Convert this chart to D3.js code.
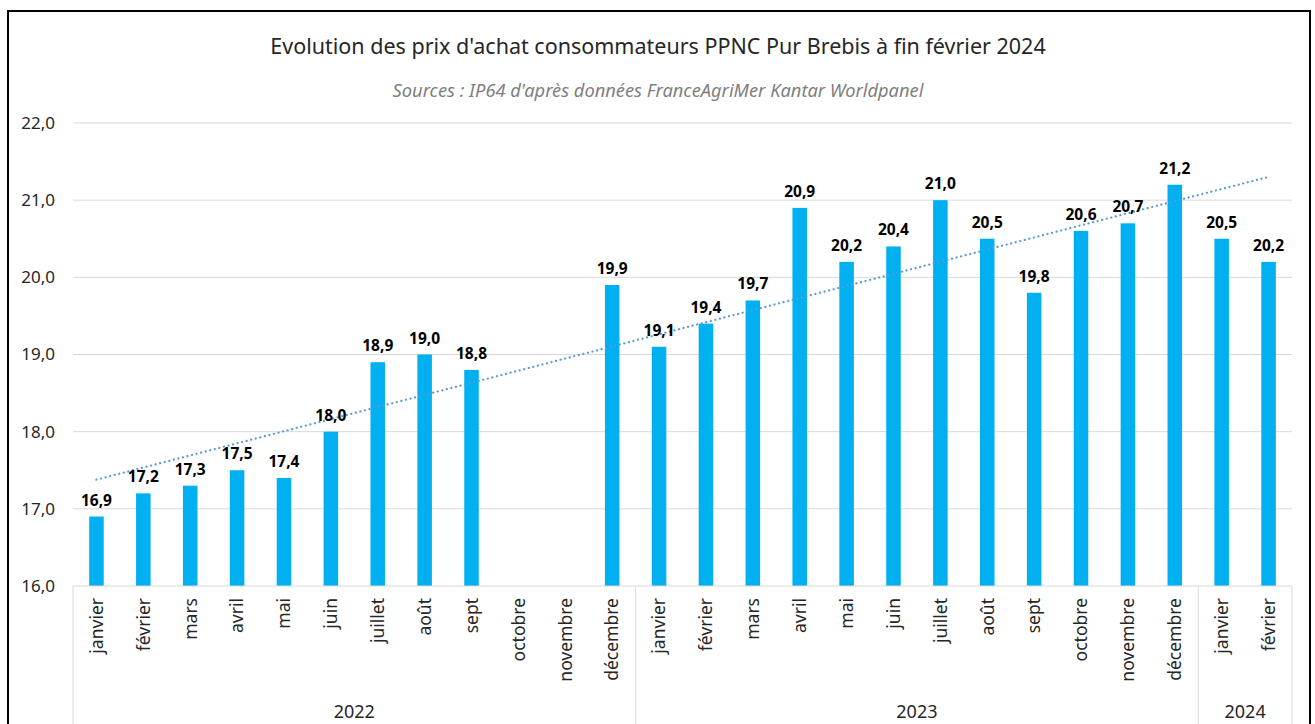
<!DOCTYPE html>
<html>
<head>
<meta charset="utf-8">
<script src="https://cdn.jsdelivr.net/npm/d3@7"></script>
<style>
  body { margin: 0; background: #fff; }
  svg { display: block; font-family: "Noto Sans", "Open Sans", sans-serif; }
</style>
</head>
<body>
<div id="vis"></div>
<script>
// months shown on the axis, grouped by year
const years = ["2022", "2023", "2024"];
const months2022 = ["janvier", "février", "mars", "avril", "mai", "juin", "juillet", "août", "sept", "octobre", "novembre", "décembre"];
const months2023 = ["janvier", "février", "mars", "avril", "mai", "juin", "juillet", "août", "sept", "octobre", "novembre", "décembre"];
const months2024 = ["janvier", "février"];

// prix moyen (€/kg), null = pas de donnée
const prix2022 = [16.9, 17.2, 17.3, 17.5, 17.4, 18.0, 18.9, 19.0, 18.8, null, null, 19.9];
const prix2023 = [19.1, 19.4, 19.7, 20.9, 20.2, 20.4, 21.0, 20.5, 19.8, 20.6, 20.7, 21.2];
const prix2024 = [20.5, 20.2];

const yTicks = [16, 17, 18, 19, 20, 21, 22];

const title = "Evolution des prix d'achat consommateurs PPNC Pur Brebis à fin février 2024";
const subtitle = "Sources : IP64 d'après données FranceAgriMer Kantar Worldpanel";

const width = 1315, height = 724;
const margin = {left: 73, right: 23, top: 123, bottom: 138};

// flat list of rows
const groups = [
  {year: years[0], months: months2022, values: prix2022},
  {year: years[1], months: months2023, values: prix2023},
  {year: years[2], months: months2024, values: prix2024}
];
const rows = [];
groups.forEach(g => g.months.forEach((m, i) => {
  rows.push({key: g.year + "-" + i, year: g.year, month: m, value: g.values[i]});
}));

const fmt = v => d3.format(".1f")(v).replace(".", ",");

const svg = d3.select("#vis").append("svg")
  .attr("width", width)
  .attr("height", height);

// frame
svg.append("rect")
  .attr("x", 8).attr("y", 11)
  .attr("width", 1302).attr("height", height + 20)
  .attr("fill", "none")
  .attr("stroke", "#000")
  .attr("stroke-width", 2);

const x = d3.scaleBand()
  .domain(rows.map(d => d.key))
  .range([margin.left, width - margin.right])
  .paddingInner(0.69)
  .paddingOuter(0.345);

const y = d3.scaleLinear()
  .domain([16, 22])
  .range([height - margin.bottom, margin.top]);

const cx = d => x(d.key) + x.bandwidth() / 2;

// gridlines
svg.append("g")
  .selectAll("line")
  .data(yTicks.slice(1))
  .join("line")
  .attr("x1", margin.left).attr("x2", width - margin.right)
  .attr("y1", d => y(d)).attr("y2", d => y(d))
  .attr("stroke", "#d9d9d9")
  .attr("stroke-width", 1);

// y axis labels
const yAxis = svg.append("g")
  .attr("transform", `translate(${margin.left},0)`)
  .call(d3.axisLeft(y).tickValues(yTicks).tickSize(0).tickPadding(18).tickFormat(fmt));
yAxis.select(".domain").remove();
yAxis.selectAll("text")
  .attr("font-size", 17)
  .attr("fill", "#262626")
  .style("font-family", "Noto Sans");

// bars
svg.append("g")
  .selectAll("rect")
  .data(rows.filter(d => d.value != null))
  .join("rect")
  .attr("x", d => x(d.key))
  .attr("width", x.bandwidth())
  .attr("y", d => y(d.value))
  .attr("height", d => y(16) - y(d.value))
  .attr("fill", "#00b0f0");

// linear trend over category index
const pts = rows.map((d, i) => ({i, v: d.value})).filter(d => d.v != null);
const mx = d3.mean(pts, d => d.i), my = d3.mean(pts, d => d.v);
const slope = d3.sum(pts, d => (d.i - mx) * (d.v - my)) / d3.sum(pts, d => (d.i - mx) ** 2);
const icept = my - slope * mx;
svg.append("line")
  .attr("x1", cx(rows[0])).attr("y1", y(icept))
  .attr("x2", cx(rows[rows.length - 1])).attr("y2", y(icept + slope * (rows.length - 1)))
  .attr("stroke", "#5b9bd5")
  .attr("stroke-width", 2.2)
  .attr("stroke-linecap", "round")
  .attr("stroke-dasharray", "0.1 4.6");

// data labels
svg.append("g")
  .selectAll("text")
  .data(rows.filter(d => d.value != null))
  .join("text")
  .attr("x", cx)
  .attr("y", d => y(d.value) - 11)
  .attr("text-anchor", "middle")
  .attr("font-size", 15.5)
  .attr("font-weight", "bold")
  .attr("fill", "#000")
  .text(d => fmt(d.value));

// category axis
const base = y(16);
svg.append("line")
  .attr("x1", margin.left).attr("x2", width - margin.right)
  .attr("y1", base).attr("y2", base)
  .attr("stroke", "#d9d9d9");

svg.append("g")
  .selectAll("text")
  .data(rows)
  .join("text")
  .attr("transform", d => `translate(${cx(d)},${base + 12}) rotate(-90)`)
  .attr("dy", "0.36em")
  .attr("text-anchor", "end")
  .attr("font-size", 17.5)
  .attr("fill", "#262626")
  .text(d => d.month);

// year separators and labels
const bounds = [margin.left];
let idx = 0;
groups.forEach(g => {
  idx += g.months.length;
  bounds.push(idx === rows.length ? width - margin.right : cx(rows[idx - 1]) + x.step() / 2);
});
svg.append("g")
  .selectAll("line")
  .data(bounds)
  .join("line")
  .attr("x1", d => d).attr("x2", d => d)
  .attr("y1", base).attr("y2", height)
  .attr("stroke", "#d9d9d9");

svg.append("g")
  .selectAll("text")
  .data(groups)
  .join("text")
  .attr("x", (g, i) => (bounds[i] + bounds[i + 1]) / 2)
  .attr("y", 718)
  .attr("text-anchor", "middle")
  .attr("font-size", 18)
  .attr("fill", "#262626")
  .text(g => g.year);

// titles
svg.append("text")
  .attr("x", 658).attr("y", 54)
  .attr("text-anchor", "middle")
  .attr("font-size", 21.5)
  .attr("fill", "#262626")
  .text(title);

svg.append("text")
  .attr("x", 658).attr("y", 97)
  .attr("text-anchor", "middle")
  .attr("font-size", 18.3)
  .attr("font-style", "italic")
  .attr("fill", "#7f7f7f")
  .text(subtitle);
</script>
</body>
</html>
